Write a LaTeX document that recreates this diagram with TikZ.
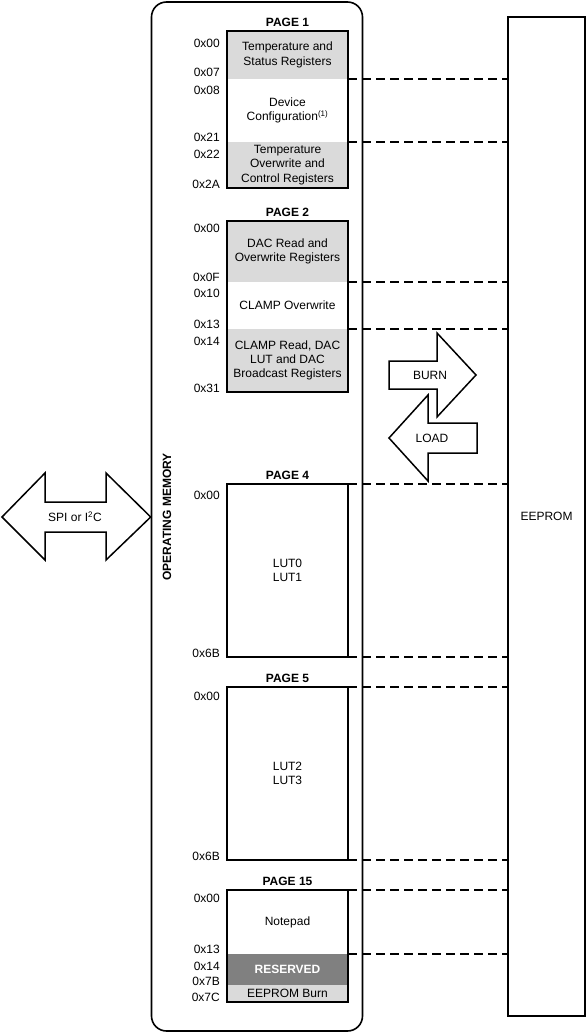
\documentclass[tikz,border=0pt]{standalone}
\usepackage{fontspec}
\setmainfont{Liberation Sans}
\usetikzlibrary{positioning}
\definecolor{regshade}{HTML}{DADADA}
\definecolor{resgray}{HTML}{808080}

\begin{document}
\begin{tikzpicture}[
    x=1pt, y=-1pt,
    font=\fontsize{12}{14.3}\selectfont,
    seg/.style={inner sep=0pt, outer sep=0pt, minimum width=121pt, align=center},
    shaded/.style={seg, fill=regshade},
    pagebox/.style={draw, line width=1.7pt},
    pagetitle/.style={font=\fontsize{12}{14}\selectfont\bfseries, inner sep=1pt, above=3pt},
    addr/.style={anchor=east, inner sep=0pt},
    link/.style={dash pattern=on 9pt off 5pt, line width=1.1pt},
    bigarrow/.style={draw, fill=white, line width=1.5pt, line join=miter},
]
\useasboundingbox (0,0) rectangle (587,1034);

% Operating memory and EEPROM
\node[draw, line width=1.6pt, rounded corners=15pt, minimum width=211pt, minimum height=1029pt, inner sep=0pt] (opmem) at (257,516.5) {};
\node[draw, line width=1.6pt, minimum width=77pt, minimum height=999pt, inner sep=0pt] (eeprom) at (546.5,516.5) {EEPROM};
\node[rotate=90, font=\fontsize{12}{14}\selectfont\bfseries] (opmemlabel) at (167,517) {OPERATING MEMORY};

% Page 1
\node[shaded, minimum height=48pt] (p1a) at (287.5,55) {Temperature and\\Status Registers};
\node[seg, minimum height=63pt] (p1b) at (287.5,110.5) {Device\\Configuration\textsuperscript{(1)}};
\node[shaded, minimum height=46pt] (p1c) at (287.5,165) {Temperature\\Overwrite and\\Control Registers};
\draw[pagebox] (p1a.north west) rectangle (p1c.south east);
\node[pagetitle] (t1) at (p1a.north) {PAGE 1};
\node[addr] (a1x00) at (220,43) {0x00};
\node[addr] (a1x07) at (220,72) {0x07};
\node[addr] (a1x08) at (220,90) {0x08};
\node[addr] (a1x21) at (220,137) {0x21};
\node[addr] (a1x22) at (220,154) {0x22};
\node[addr] (a1x2A) at (220,184) {0x2A};

% Page 2
\node[shaded, minimum height=61pt] (p2a) at (287.5,251.5) {DAC Read and\\Overwrite Registers};
\node[seg, minimum height=47pt] (p2b) at (287.5,305.5) {CLAMP Overwrite};
\node[shaded, minimum height=63pt] (p2c) at (287.5,360.5) {CLAMP Read, DAC\\LUT and DAC\\Broadcast Registers};
\draw[pagebox] (p2a.north west) rectangle (p2c.south east);
\node[pagetitle] (t2) at (p2a.north) {PAGE 2};
\node[addr] (a2x00) at (220,228) {0x00};
\node[addr] (a2x0F) at (220,277) {0x0F};
\node[addr] (a2x10) at (220,293) {0x10};
\node[addr] (a2x13) at (220,324) {0x13};
\node[addr] (a2x14) at (220,341) {0x14};
\node[addr] (a2x31) at (220,388) {0x31};

% Page 4
\node[seg, pagebox, minimum height=173pt] (p4) at (287.5,570.5) {LUT0\\LUT1};
\node[pagetitle] (t4) at (p4.north) {PAGE 4};
\node[addr] (a4x00) at (220,495) {0x00};
\node[addr] (a4x6B) at (220,653) {0x6B};

% Page 5
\node[seg, pagebox, minimum height=173pt] (p5) at (287.5,773.5) {LUT2\\LUT3};
\node[pagetitle] (t5) at (p5.north) {PAGE 5};
\node[addr] (a5x00) at (220,696) {0x00};
\node[addr] (a5x6B) at (220,856) {0x6B};

% Page 15
\node[seg, minimum height=64pt] (p15a) at (287.5,922) {Notepad};
\node[seg, fill=resgray, minimum height=31pt, text=white, font=\fontsize{12}{14}\selectfont\bfseries] (p15b) at (287.5,969.5) {RESERVED};
\node[shaded, minimum height=17pt] (p15c) at (287.5,993.5) {EEPROM Burn};
\draw[pagebox] (p15a.north west) rectangle (p15c.south east);
\node[pagetitle] (t15) at (p15a.north) {PAGE 15};
\node[addr] (a15x00) at (220,898) {0x00};
\node[addr] (a15x13) at (220,949) {0x13};
\node[addr] (a15x14) at (220,966) {0x14};
\node[addr] (a15x7B) at (220,981) {0x7B};
\node[addr] (a15x7C) at (220,997) {0x7C};

% Links to EEPROM
\draw[link] (p1a.south east) -- (p1a.south east -| eeprom.west);
\draw[link] (p1b.south east) -- (p1b.south east -| eeprom.west);
\draw[link] (p2a.south east) -- (p2a.south east -| eeprom.west);
\draw[link] (p2b.south east) -- (p2b.south east -| eeprom.west);
\draw[link] (p4.north east) -- (p4.north east -| eeprom.west);
\draw[link] (p4.south east) -- (p4.south east -| eeprom.west);
\draw[link] (p5.north east) -- (p5.north east -| eeprom.west);
\draw[link] (p5.south east) -- (p5.south east -| eeprom.west);
\draw[link] (p15a.north east) -- (p15a.north east -| eeprom.west);
\draw[link] (p15a.south east) -- (p15a.south east -| eeprom.west);

% BURN / LOAD arrows
\draw[bigarrow] (389,361) -- (437,361) -- (437,333) -- (476,375) -- (437,417) -- (437,389) -- (389,389) -- cycle;
\node (burn) at (430,375) {BURN};
\draw[bigarrow] (389,438) -- (428,395) -- (428,423) -- (477,423) -- (477,453) -- (428,453) -- (428,481) -- cycle;
\node (load) at (432,438) {LOAD};

% Interface arrow
\draw[bigarrow] (2,517) -- (45,473) -- (45,502) -- (106,502) -- (106,473) -- (opmem.west |- 0,517) -- (106,560) -- (106,532) -- (45,532) -- (45,560) -- cycle;
\node (spi) at (75,517) {SPI or I\textsuperscript{2}C};

\end{tikzpicture}
\end{document}
